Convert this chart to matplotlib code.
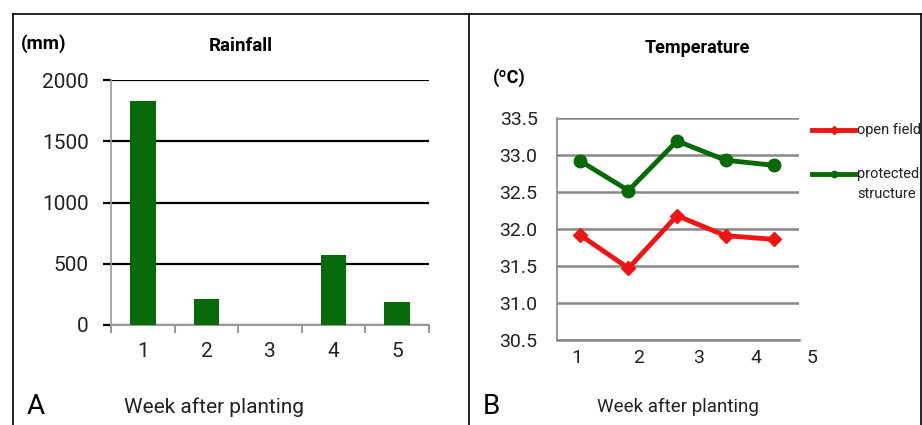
import numpy as np
import matplotlib
matplotlib.use('Agg')
import matplotlib.pyplot as plt
from matplotlib.lines import Line2D

plt.rcParams['font.family'] = ['Roboto', 'DejaVu Sans']

# Rainfall data (panel A)
weeks = [1, 2, 3, 4, 5]
rainfall = [1830, 215, 0, 570, 185]

# Temperature data (panel B)
temp_open = [31.92, 31.47, 32.18, 31.91, 31.86]
temp_protected = [32.92, 32.52, 33.19, 32.93, 32.86]
temp_xlabels = ['1', '2', '3', '4', '5']
temp_xlabel_pos = [0.94, 2.2, 3.45, 4.63, 5.78]
series_names = ['open field', 'protected\nstructure']

green = '#076907'
red = '#f01414'

fig = plt.figure(figsize=(9.22, 4.25), dpi=100)
W, H = 922, 425

def fx(px):
    return px / W

def fy(py):
    return 1 - py / H

# frame around both panels
for (x0, y0, x1, y1) in [(13, 14, 921, 14), (13, 14, 13, 425), (469, 14, 469, 425), (921, 14, 921, 425)]:
    fig.add_artist(Line2D([fx(x0), fx(x1)], [fy(y0), fy(y1)], color='black', lw=1.2))

# ---- Panel A: rainfall ----
axA = fig.add_axes([fx(111), fy(325), fx(429) - fx(111), fy(80) - fy(325)])
axA.bar(weeks, rainfall, width=0.4, color=green, zorder=3)
axA.set_xlim(0.5, 5.5)
axA.set_ylim(0, 2000)
axA.set_yticks([0, 500, 1000, 1500, 2000])
axA.yaxis.grid(True, color='black', lw=1.6)
axA.set_axisbelow(True)
for s in ['top', 'right']:
    axA.spines[s].set_visible(False)
axA.spines['left'].set_color('#999999')
axA.spines['bottom'].set_color('#999999')
axA.spines['left'].set_linewidth(1.2)
axA.spines['bottom'].set_linewidth(1.5)
axA.set_xticks(weeks)
axA.set_xticks(np.arange(0.5, 6, 1), minor=True)
axA.tick_params(axis='x', which='major', length=0, labelsize=15, pad=12)
axA.tick_params(axis='x', which='minor', length=6, width=1.5, color='#999999')
axA.tick_params(axis='y', length=6, width=1.6, color='black', labelsize=15, pad=10)
for lab in axA.get_xticklabels() + axA.get_yticklabels():
    lab.set_color('#222222')

fig.text(fx(21), fy(44), '(mm)', fontsize=13.5, fontweight='bold', va='center', ha='left')
fig.text(fx(241), fy(46), 'Rainfall', fontsize=13.5, fontweight='bold', va='center', ha='center')
fig.text(fx(124), fy(407), 'Week after planting', fontsize=15, va='center', ha='left', color='#222222')
fig.text(fx(27), fy(406), 'A', fontsize=20, va='center', ha='left')

# ---- Panel B: temperature ----
axB = fig.add_axes([fx(557), fy(340), fx(799) - fx(557), fy(118) - fy(340)])
axB.plot(weeks, temp_open, color=red, lw=3.5, marker='D', ms=7, zorder=3)
axB.plot(weeks, temp_protected, color=green, lw=3.5, marker='o', ms=9, zorder=3)
axB.set_xlim(0.526, 5.515)
axB.set_ylim(30.5, 33.5)
yt = np.arange(30.5, 33.51, 0.5)
axB.set_yticks(yt)
axB.set_yticklabels(['%.1f' % v for v in yt], fontsize=14, color='#222222')
axB.yaxis.grid(True, color='#888888', lw=1.8)
axB.set_axisbelow(True)
axB.set_xticks([])
for s in ['top', 'right']:
    axB.spines[s].set_visible(False)
axB.spines['left'].set_color('#888888')
axB.spines['bottom'].set_color('#888888')
axB.spines['left'].set_linewidth(1.2)
axB.spines['bottom'].set_linewidth(1.8)
axB.tick_params(axis='y', length=0, pad=14)
for xp, lab in zip(temp_xlabel_pos, temp_xlabels):
    axB.text(xp, -0.08, lab, transform=axB.get_xaxis_transform(), ha='center', va='center',
             fontsize=14, color='#222222', clip_on=False)

# legend drawn by hand (first text line level with the handle)
for name, col, mk, ypx in zip(series_names, [red, green], ['D', 'o'], [130, 174]):
    fig.add_artist(Line2D([fx(812), fx(855)], [fy(ypx), fy(ypx)], color=col, lw=3.5))
    fig.add_artist(Line2D([fx(834)], [fy(ypx)], color=col, marker=mk, ms=4.5, lw=0))
    fig.text(fx(857), fy(ypx - 7), name, fontsize=10.5, va='top', ha='left',
             color='#222222', linespacing=1.55)

fig.text(fx(697), fy(48), 'Temperature', fontsize=13, fontweight='bold', va='center', ha='center')
fig.text(fx(493), fy(78), '(\u00baC)', fontsize=13, fontweight='bold', va='center', ha='left')
fig.text(fx(597), fy(407), 'Week after planting', fontsize=13.5, va='center', ha='left', color='#222222')
fig.text(fx(483), fy(406), 'B', fontsize=20, va='center', ha='left')

fig.savefig('out.png', dpi=100)
